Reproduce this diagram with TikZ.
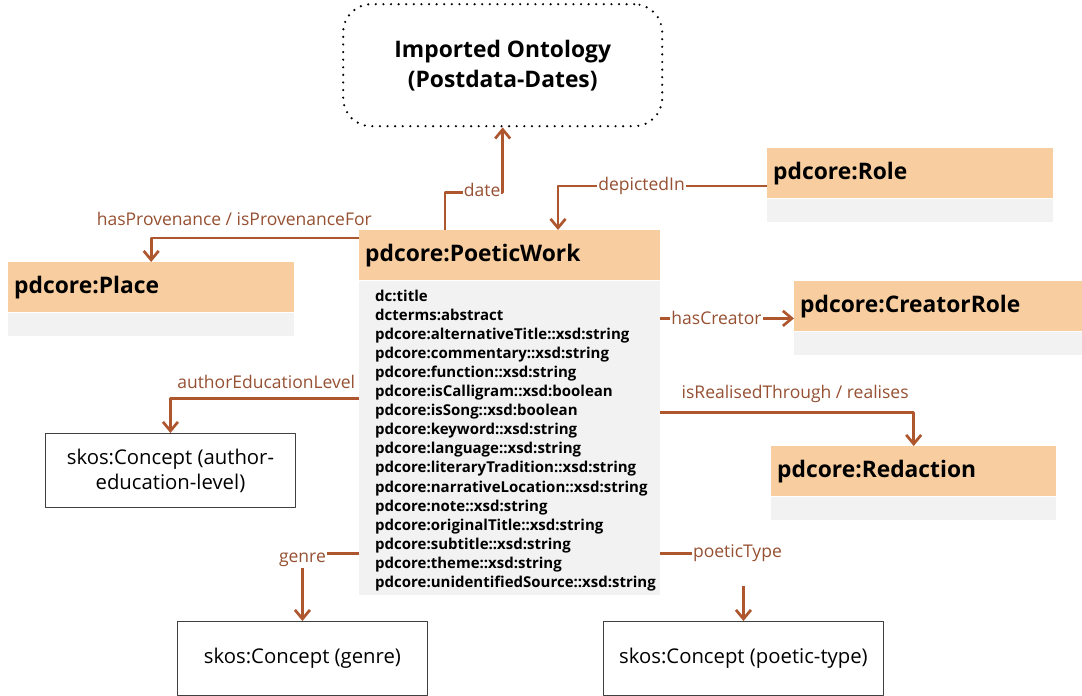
\documentclass[tikz,border=0pt]{standalone}
\usepackage{fontspec}
\setmainfont{Open Sans}
\usetikzlibrary{arrows.meta}
\definecolor{hdrorange}{RGB}{248,206,160}
\definecolor{bodygray}{RGB}{242,242,242}
\definecolor{linkbrown}{RGB}{174,86,46}
\definecolor{lblbrown}{RGB}{150,80,50}
\begin{document}
\begin{tikzpicture}[x=1pt, y=-1pt, line join=round,
    hdr/.style={fill=hdrorange, anchor=north west, inner xsep=6pt, inner ysep=0pt,
      minimum height=50pt, align=left, font=\bfseries\fontsize{22.8}{26}\selectfont},
    body/.style={fill=bodygray, anchor=north west, inner sep=0pt, minimum height=23pt},
    attr/.style={anchor=north west, inner sep=0pt, align=left,
      font=\bfseries\fontsize{15}{19.1}\selectfont},
    concept/.style={draw=black!75, line width=0.9pt, anchor=north west, align=center,
      inner sep=0pt, font=\fontsize{20.3}{25}\selectfont},
    conn/.style={draw=linkbrown, line width=2.7pt,
      -{Straight Barb[length=9pt, width=15pt, line width=2.7pt]}},
    lbl/.style={text=lblbrown, fill=white, inner sep=1pt, font=\fontsize{17.5}{20}\selectfont}]
    \useasboundingbox (0,0) rectangle (1082,696);

    % imported ontology
    \node[draw, dash pattern=on 0pt off 7.6pt, line cap=round, line width=2.4pt,
      rounded corners=28pt, anchor=north west, minimum width=319pt, minimum height=122pt,
      align=center, font=\bfseries\fontsize{22.8}{30}\selectfont] (onto) at (342,3)
      {Imported Ontology\\(Postdata-Dates)};

    % classes
    \node[hdr, text width=289pt] (pwh) at (359,230) {pdcore:PoeticWork};
    \node[body, minimum width=301pt, minimum height=314pt] (pwb) at (pwh.south west) {};
    \node[attr, xshift=16pt, yshift=-9pt] (pwattr) at (pwb.north west) {dc:title\\
      dcterms:abstract\\ pdcore:alternativeTitle::xsd:string\\
      pdcore:commentary::xsd:string\\ pdcore:function::xsd:string\\
      pdcore:isCalligram::xsd:boolean\\ pdcore:isSong::xsd:boolean\\
      pdcore:keyword::xsd:string\\ pdcore:language::xsd:string\\
      pdcore:literaryTradition::xsd:string\\ pdcore:narrativeLocation::xsd:string\\
      pdcore:note::xsd:string\\ pdcore:originalTitle::xsd:string\\
      pdcore:subtitle::xsd:string\\ pdcore:theme::xsd:string\\
      pdcore:unidentifiedSource::xsd:string};

    \node[hdr, text width=274pt] (placeh) at (8,262) {pdcore:Place};
    \node[body, minimum width=286pt] (placeb) at (placeh.south west) {};
    \node[hdr, text width=274pt] (roleh) at (767,148) {pdcore:Role};
    \node[body, minimum width=286pt] (roleb) at (roleh.south west) {};
    \node[hdr, text width=276pt] (crh) at (794,281) {pdcore:CreatorRole};
    \node[body, minimum width=288pt] (crb) at (crh.south west) {};
    \node[hdr, text width=273pt] (redh) at (771,446) {pdcore:Redaction};
    \node[body, minimum width=285pt] (redb) at (redh.south west) {};

    % skos concepts
    \node[concept, minimum width=250pt, minimum height=74pt] (aelc) at (45,433)
      {skos:Concept (author-\\education-level)};
    \node[concept, minimum width=250pt, minimum height=74pt] (genrec) at (177,621)
      {skos:Concept (genre)};
    \node[concept, minimum width=280pt, minimum height=74pt] (ptypec) at (603,621)
      {skos:Concept (poetic-type)};

    % connectors
    \draw[conn] (pwh.north west) ++(86,0) |- ([yshift=-65pt]onto.south)
      node[lbl, anchor=base east, yshift=-4.5pt]{date} -- (onto.south);
    \draw[conn] (roleh.north west) ++(0,38) -| ([xshift=199pt]pwh.north west)
      node[lbl, pos=0.3]{depictedIn};
    \draw[conn] (pwh.north west) ++(0,8) -| (placeh.north)
      node[lbl, pos=0.3, anchor=base, yshift=12.5pt]{hasProvenance / isProvenanceFor};
    \draw[conn] (pwb.north west) ++(0,118) -| (aelc.north)
      node[lbl, pos=0.246, anchor=base, yshift=9.5pt]{authorEducationLevel};
    \draw[conn] (pwb.north east) ++(0,38) coordinate (hc) -- (hc -| crh.west)
      node[lbl, pos=0.42]{hasCreator};
    \draw[conn] (pwb.north east) ++(0,132) -| (redh.north)
      node[lbl, pos=0.266, anchor=base, yshift=13.5pt]{isRealisedThrough / realises};
    \draw[conn] (pwb.north west) ++(0,273) -| (genrec.north)
      node[lbl, pos=0.5, anchor=base, yshift=-9.5pt]{genre};
    \draw[conn] (pwb.north east) ++(0,273) -| (ptypec.north)
      node[lbl, pos=0.5, anchor=base, xshift=-6pt, yshift=-4pt, text depth=28pt]{poeticType};
\end{tikzpicture}
\end{document}
